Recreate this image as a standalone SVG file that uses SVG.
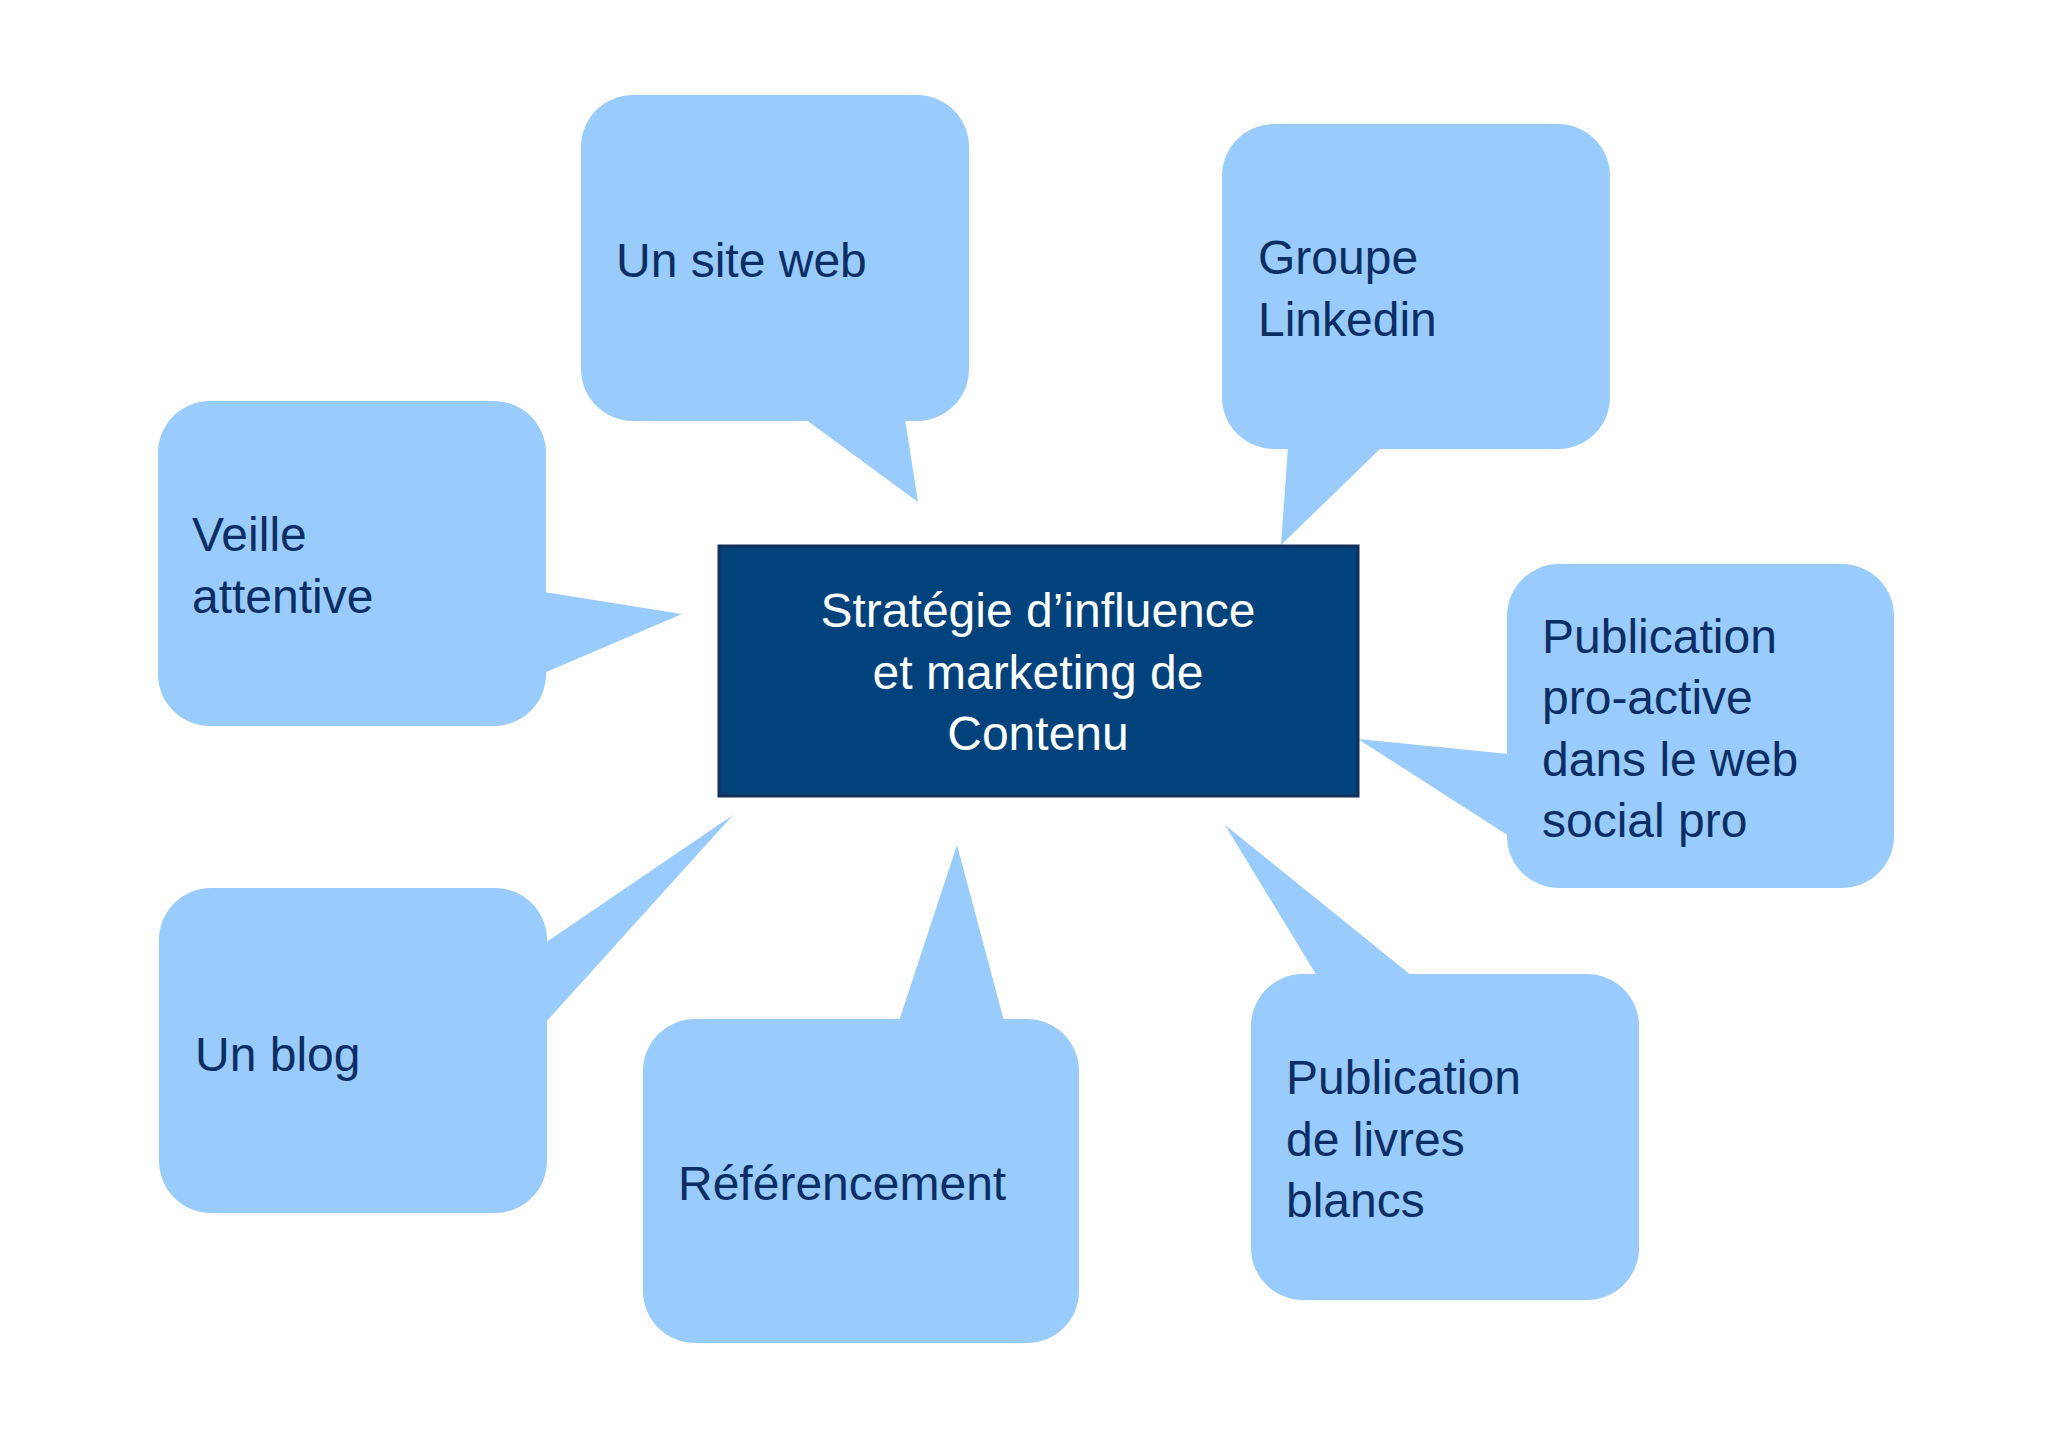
<svg xmlns="http://www.w3.org/2000/svg" width="2048" height="1453" viewBox="0 0 2048 1453">
<style>
.b{fill:#99CBFD}
.t{font-family:"Liberation Sans",Arial,sans-serif;font-size:48px;fill:#0B2F64}
.c{font-family:"Liberation Sans",Arial,sans-serif;font-size:48px;fill:#fff;text-anchor:middle}
</style>
<rect width="2048" height="1453" fill="#fff"/>
<g id="connectors"></g>
<g id="site"><rect class="b" x="581" y="95" width="388" height="326" rx="52"/><polygon class="b" points="805,419 918,502 905,419"/><text class="t" x="616" y="277">Un site web</text></g>
<g id="linkedin"><rect class="b" x="1222" y="124" width="388" height="325" rx="52"/><polygon class="b" points="1288,447 1281,545 1382,447"/><text class="t" x="1258" y="274">Groupe</text><text class="t" x="1258" y="336">Linkedin</text></g>
<g id="veille"><rect class="b" x="158" y="401" width="388" height="325" rx="52"/><polygon class="b" points="544,592 682,614 544,673"/><text class="t" x="192" y="551">Veille</text><text class="t" x="192" y="613">attentive</text></g>
<g id="proactive"><rect class="b" x="1507" y="564" width="387" height="324" rx="52"/><polygon class="b" points="1509,754 1358,739 1509,836"/><text class="t" x="1542" y="653">Publication</text><text class="t" x="1542" y="714">pro-active</text><text class="t" x="1542" y="776">dans le web</text><text class="t" x="1542" y="837">social pro</text></g>
<g id="blog"><rect class="b" x="159" y="888" width="388" height="325" rx="52"/><polygon class="b" points="545,943 733,815 545,1023"/><text class="t" x="195" y="1071">Un blog</text></g>
<g id="ref"><rect class="b" x="643" y="1019" width="436" height="324" rx="52"/><polygon class="b" points="899,1021 957,845 1004,1021"/><text class="t" x="678" y="1200">Référencement</text></g>
<g id="livres"><rect class="b" x="1251" y="974" width="388" height="326" rx="52"/><polygon class="b" points="1317,976 1225,825 1412,976"/><text class="t" x="1286" y="1094">Publication</text><text class="t" x="1286" y="1156">de livres</text><text class="t" x="1286" y="1217">blancs</text></g>
<g id="center"><rect x="719" y="546" width="639" height="250" fill="#00427B" stroke="#14305A" stroke-width="3"/><text class="c" x="1038" y="627">Stratégie d’influence</text><text class="c" x="1038" y="689">et marketing de</text><text class="c" x="1038" y="750">Contenu</text></g>
</svg>
